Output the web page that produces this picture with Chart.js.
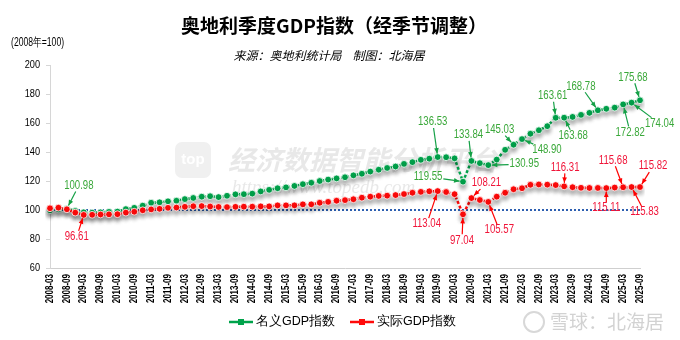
<!DOCTYPE html>
<html>
<head>
<meta charset="utf-8">
<script src="https://cdn.jsdelivr.net/npm/chart.js@4.4.1/dist/chart.umd.min.js"></script>
<style>
  html, body { margin: 0; padding: 0; background: #fff; }
</style>
</head>
<body>
<canvas id="gdp-chart" width="680" height="340"></canvas>
<script>
// quarters, 2008-03 .. 2025-09
var quarters = [
  '2008-03','2008-06','2008-09','2008-12','2009-03','2009-06','2009-09','2009-12',
  '2010-03','2010-06','2010-09','2010-12','2011-03','2011-06','2011-09','2011-12',
  '2012-03','2012-06','2012-09','2012-12','2013-03','2013-06','2013-09','2013-12',
  '2014-03','2014-06','2014-09','2014-12','2015-03','2015-06','2015-09','2015-12',
  '2016-03','2016-06','2016-09','2016-12','2017-03','2017-06','2017-09','2017-12',
  '2018-03','2018-06','2018-09','2018-12','2019-03','2019-06','2019-09','2019-12',
  '2020-03','2020-06','2020-09','2020-12','2021-03','2021-06','2021-09','2021-12',
  '2022-03','2022-06','2022-09','2022-12','2023-03','2023-06','2023-09','2023-12',
  '2024-03','2024-06','2024-09','2024-12','2025-03','2025-06','2025-09'
];

// 名义GDP指数
var nominal = [
  99.8, 100.5, 100.98, 99.3, 98.4, 98.2, 98.4, 98.7, 98.9, 100.6,
  101.5, 103.0, 105.0, 105.3, 106.0, 106.4, 107.5, 108.3, 109.2, 109.5,
  108.9, 109.8, 110.8, 110.9, 111.3, 112.8, 113.9, 115.0, 115.6, 116.6,
  117.8, 118.8, 120.0, 121.0, 121.8, 122.6, 123.9, 125.0, 126.5, 127.8,
  129.0, 130.0, 131.8, 133.0, 134.6, 135.4, 136.53, 136.4, 135.6, 119.55,
  133.84, 132.3, 130.95, 134.8, 141.5, 145.03, 148.90, 152.6, 155.0, 157.8,
  163.61, 163.68, 164.2, 165.6, 167.0, 168.78, 169.8, 170.6, 172.82, 174.04,
  175.68
];

// 实际GDP指数
var real = [
  101.2, 101.6, 100.5, 98.2, 96.61, 96.7, 96.9, 97.0, 97.1, 98.2,
  98.8, 99.8, 100.4, 100.8, 101.5, 101.7, 102.2, 102.6, 102.7, 102.4,
  102.1, 102.0, 102.2, 102.3, 102.3, 102.5, 102.5, 103.2, 103.2, 103.2,
  103.9, 103.9, 105.0, 105.6, 106.4, 106.8, 107.4, 108.5, 109.2, 109.7,
  109.9, 110.3, 111.0, 111.9, 112.5, 112.9, 113.04, 112.4, 110.9, 97.04,
  108.21, 106.9, 105.57, 109.2, 111.9, 114.3, 115.0, 117.4, 117.6, 117.5,
  117.2, 116.31, 115.7, 115.3, 115.2, 115.2, 115.11, 115.5, 115.68, 115.83,
  115.82
];

var baseLevel = 100;
var yTicks = [60, 80, 100, 120, 140, 160, 180, 200];

// which points get a value label: [index, label dx, label dy]
var nominalNotes = [[2, 12, -23], [46, -5, -35], [49, -35, -5], [50, -3, -26], [52, 36, -1],
  [55, -14, -15], [56, 25, 11], [60, -3, -22], [61, 9, 18], [65, -17, -24],
  [68, 7, 28], [69, 28, 21], [70, -7, -23]];
var realNotes = [[4, -7, 22], [46, -11, 33], [49, -1, 26], [50, 15, -15], [52, 11, 28],
  [61, 1, -19], [66, 0, 20], [68, -10, -27], [69, 13, 25], [70, 13, -21]];

var GREEN = '#00a34b';
var RED = '#ff0a0a';
var SANS = '"Liberation Sans", Arial, sans-serif';

// narrow-looking text: squeeze along the text direction around (x, y)
function narrowText(ctx, txt, x, y, sx, rot) {
  ctx.save();
  ctx.translate(x, y);
  if (rot) ctx.rotate(rot);
  ctx.scale(sx, 1);
  ctx.fillText(txt, 0, 0);
  ctx.restore();
}

function drawArrow(ctx, x1, y1, x2, y2, color) {
  var a = Math.atan2(y2 - y1, x2 - x1);
  ctx.strokeStyle = color;
  ctx.fillStyle = color;
  ctx.lineWidth = 1.2;
  ctx.beginPath();
  ctx.moveTo(x1, y1);
  ctx.lineTo(x2, y2);
  ctx.stroke();
  ctx.beginPath();
  ctx.moveTo(x2, y2);
  ctx.lineTo(x2 - 6 * Math.cos(a - 0.4), y2 - 6 * Math.sin(a - 0.4));
  ctx.lineTo(x2 - 6 * Math.cos(a + 0.4), y2 - 6 * Math.sin(a + 0.4));
  ctx.closePath();
  ctx.fill();
}

function drawNotes(chart, dsIndex, notes, textColor, arrowColor) {
  var ctx = chart.ctx;
  var meta = chart.getDatasetMeta(dsIndex);
  var values = chart.data.datasets[dsIndex].data;
  ctx.font = '12px ' + SANS;
  ctx.textAlign = 'center';
  ctx.textBaseline = 'middle';
  notes.forEach(function (n) {
    var pt = meta.data[n[0]];
    var txt = values[n[0]].toFixed(2);
    var lx = pt.x + n[1], ly = pt.y + n[2];
    ctx.fillStyle = textColor;
    narrowText(ctx, txt, lx, ly, 0.8);
    var vx = pt.x - lx, vy = pt.y - ly;
    var len = Math.sqrt(vx * vx + vy * vy);
    var hw = ctx.measureText(txt).width * 0.8 / 2 + 1, hh = 6;
    var t = Math.min(vx === 0 ? 9 : hw / Math.abs(vx), vy === 0 ? 9 : hh / Math.abs(vy));
    var sx = lx + vx * t, sy = ly + vy * t;
    var ex = pt.x - vx / len * 3.5, ey = pt.y - vy / len * 3.5;
    drawArrow(ctx, sx, sy, ex, ey, arrowColor);
  });
}

var decor = {
  id: 'decor',
  beforeDatasetsDraw: function (chart) {
    var ctx = chart.ctx;
    ctx.save();
    // watermark
    ctx.fillStyle = '#f0f0f0';
    ctx.beginPath();
    ctx.roundRect(175, 142, 36, 36, 7);
    ctx.fill();
    ctx.fillStyle = '#ffffff';
    ctx.font = 'bold 15px ' + SANS;
    ctx.textAlign = 'center';
    ctx.textBaseline = 'middle';
    ctx.fillText('top', 193, 160);
    ctx.textAlign = 'left';
    ctx.fillStyle = 'rgba(205,205,205,0.45)';
    ctx.font = 'italic bold 27px "Noto Sans CJK SC", sans-serif';
    ctx.fillText('经济数据智能分析平台', 228, 160);
    ctx.font = 'italic 19px "Liberation Serif", serif';
    ctx.fillText('https://www.topedb.com', 232, 188);
    ctx.restore();
  },
  beforeDatasetDraw: function (chart, args) {
    if (args.index < 2) {
      var ctx = chart.ctx;
      ctx.save();
      ctx.shadowColor = 'rgba(0,0,0,0.28)';
      ctx.shadowBlur = 4;
      ctx.shadowOffsetY = 4;
    }
  },
  afterDatasetDraw: function (chart, args) {
    if (args.index < 2) chart.ctx.restore();
  },
  afterDraw: function (chart) {
    var ctx = chart.ctx;
    var xs = chart.scales.x, ys = chart.scales.y;
    ctx.save();
    ctx.fillStyle = '#000';

    // axis labels, drawn narrow like the original
    ctx.font = 'bold 10px ' + SANS;
    ctx.textAlign = 'right';
    ctx.textBaseline = 'middle';
    quarters.forEach(function (q, i) {
      if (i % 2 === 0) narrowText(ctx, q, xs.getPixelForValue(i), xs.top + 6, 0.8, -Math.PI / 2);
    });
    ctx.font = '11.5px ' + SANS;
    yTicks.forEach(function (v) {
      narrowText(ctx, String(v), 40, ys.getPixelForValue(v), 0.8);
    });

    // title
    ctx.textAlign = 'center';
    ctx.font = 'bold 19px "Noto Sans CJK SC", sans-serif';
    ctx.fillText('奥地利季度GDP指数（经季节调整）', 334, 26);
    ctx.font = 'italic 12px "Noto Sans CJK SC", sans-serif';
    ctx.fillText('来源：奥地利统计局    制图：北海居', 329, 55);
    ctx.textAlign = 'left';
    ctx.font = '12px ' + SANS;
    narrowText(ctx, '(2008年=100)', 11, 43, 0.72);

    // legend
    var items = [[GREEN, '名义GDP指数', 229], [RED, '实际GDP指数', 350]];
    items.forEach(function (it) {
      ctx.strokeStyle = it[0];
      ctx.fillStyle = it[0];
      ctx.lineWidth = 2.5;
      ctx.beginPath();
      ctx.moveTo(it[2], 322);
      ctx.lineTo(it[2] + 24, 322);
      ctx.stroke();
      ctx.fillRect(it[2] + 9, 319, 6, 6);
      ctx.fillStyle = '#000';
      ctx.font = '12.5px ' + SANS;
      ctx.fillText(it[1], it[2] + 27, 322);
    });

    // xueqiu watermark
    ctx.strokeStyle = '#d8d8d8';
    ctx.lineWidth = 2;
    ctx.beginPath();
    ctx.arc(534, 322, 10, 0, Math.PI * 2);
    ctx.stroke();
    ctx.fillStyle = '#d2d2d2';
    ctx.font = '19px "Noto Sans CJK SC", sans-serif';
    ctx.fillText('雪球：北海居', 550, 322);

    drawNotes(chart, 1, nominalNotes, '#3aa83a', '#14a046');
    drawNotes(chart, 0, realNotes, '#f01438', '#ff0000');
    ctx.restore();
  }
};

new Chart(document.getElementById('gdp-chart'), {
  type: 'line',
  data: {
    labels: quarters,
    datasets: [
      {
        label: '实际GDP指数',
        data: real,
        borderColor: RED,
        backgroundColor: RED,
        borderWidth: 2.5,
        borderDash: [3, 2],
        pointRadius: 3.4,
        pointBorderColor: '#ffffff',
        pointBorderWidth: 0.8,
        pointBackgroundColor: RED,
        tension: 0,
        fill: false
      },
      {
        label: '名义GDP指数',
        data: nominal,
        borderColor: GREEN,
        backgroundColor: GREEN,
        borderWidth: 2.5,
        borderDash: [3, 2],
        pointRadius: 3.4,
        pointBorderColor: '#ffffff',
        pointBorderWidth: 0.8,
        pointBackgroundColor: GREEN,
        tension: 0,
        fill: false
      },
      {
        label: 'base',
        data: quarters.map(function () { return baseLevel; }),
        borderColor: '#2d5fb0',
        borderWidth: 2,
        borderDash: [2, 2],
        pointRadius: 0,
        fill: false
      }
    ]
  },
  options: {
    responsive: false,
    animation: false,
    devicePixelRatio: 1,
    layout: { padding: { top: 65, right: 40, bottom: 32, left: 0 } },
    plugins: {
      legend: { display: false },
      tooltip: { enabled: false },
      title: { display: false }
    },
    scales: {
      x: {
        offset: false,
        grid: { display: false },
        border: { color: '#cfcfcf' },
        ticks: { display: false },
        afterFit: function (s) { s.height = 40; }
      },
      y: {
        min: yTicks[0],
        max: yTicks[yTicks.length - 1],
        grid: { drawOnChartArea: false, tickLength: 4, color: '#d6d6d6' },
        border: { color: '#d6d6d6' },
        afterBuildTicks: function (s) { s.ticks = yTicks.map(function (v) { return { value: v }; }); },
        ticks: { display: false },
        afterFit: function (s) { s.width = 50; }
      }
    }
  },
  plugins: [decor]
});
</script>
</body>
</html>
